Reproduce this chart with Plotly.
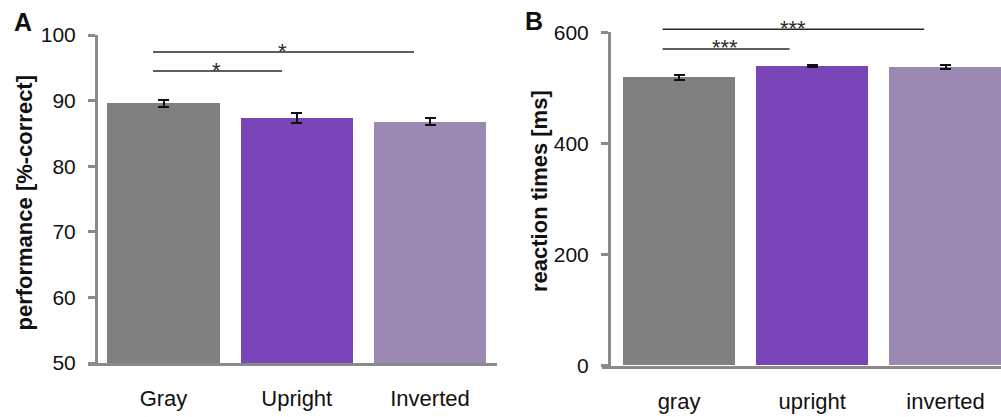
import plotly.graph_objects as go

W, H = 1001, 417

# Panel A: accuracy per condition
conditions_a = ["Gray", "Upright", "Inverted"]
performance = [89.6, 87.3, 86.8]
performance_sem = [0.55, 0.75, 0.55]
ticks_a = [50, 60, 70, 80, 90, 100]
range_a = [50, 100]

# Panel B: reaction times per condition
conditions_b = ["gray", "upright", "inverted"]
reaction_ms = [519, 539, 537]
reaction_sem = [5, 1.5, 3.5]
ticks_b = [0, 200, 400, 600]
range_b = [0, 600]

bar_colors = ["#808080", "#7a45b8", "#9b88b3"]

# significance brackets: (x start, x end, height, label, label x)
sig_a = [(-0.09, 0.89, 94.5, "*", 0.40), (-0.09, 1.88, 97.4, "*", 0.895)]
sig_b = [(-0.135, 0.83, 570, "***", 0.345), (-0.135, 1.84, 605.4, "***", 0.856)]

FONT = "Liberation Sans, Arial, Helvetica, sans-serif"
AXIS_GRAY = "#8a8a8a"
TEXT = "#111111"
BAR_W = 0.844


def px_x(p):
    return p / W


def px_y(p):
    return 1 - p / H


def to_domain(v, rng):
    # value on a y axis -> fraction of that axis' domain (may exceed 1)
    return (v - rng[0]) / (rng[1] - rng[0])


fig = go.Figure()

for xa, ya, cats, vals, errs in [
    ("x", "y", conditions_a, performance, performance_sem),
    ("x2", "y2", conditions_b, reaction_ms, reaction_sem),
]:
    fig.add_trace(go.Bar(
        x=list(range(len(cats))), y=vals, xaxis=xa, yaxis=ya,
        width=BAR_W, marker=dict(color=bar_colors, line=dict(width=0)),
        error_y=dict(type="data", array=errs, color="#111111",
                     thickness=2, width=5.5),
        showlegend=False, hoverinfo="skip",
    ))

common_x = dict(showline=True, linecolor=AXIS_GRAY, linewidth=3,
                ticks="", showgrid=False, zeroline=False, automargin=False,
                tickvals=[0, 1, 2], ticklabelstandoff=14,
                tickfont=dict(family=FONT, size=22, color=TEXT))
common_y = dict(showline=True, linecolor=AXIS_GRAY, linewidth=3,
                ticks="outside", ticklen=7, tickwidth=3, tickcolor=AXIS_GRAY,
                showgrid=False, zeroline=False, anchor="free", automargin=False,
                ticklabelstandoff=8,
                tickfont=dict(family=FONT, size=21, color=TEXT))

fig.update_layout(
    width=W, height=H,
    margin=dict(l=0, r=0, t=0, b=0, autoexpand=False),
    paper_bgcolor="white", plot_bgcolor="white",
    bargap=0,
    xaxis=dict(common_x, domain=[px_x(88), px_x(497)], range=[-0.5666, 2.5028],
               anchor="y", ticktext=conditions_a),
    yaxis=dict(common_y, domain=[px_y(363), px_y(35)], range=range_a,
               position=px_x(96), tickvals=ticks_a),
    xaxis2=dict(common_x, domain=[px_x(602), 1.0], range=[-0.578, 2.4165],
                anchor="y2", ticktext=conditions_b),
    yaxis2=dict(common_y, domain=[px_y(365.5), px_y(32.3)], range=range_b,
                position=px_x(609), tickvals=ticks_b),
)

annotations = []
for xa, ya, rng, brackets in [("x", "y", range_a, sig_a), ("x2", "y2", range_b, sig_b)]:
    yd = ya + " domain"
    for x0, x1, yl, label, lx in brackets:
        yf = to_domain(yl, rng)
        annotations.append(dict(
            x=x1, y=yf, ax=x0, ay=yf, xref=xa, yref=yd, axref=xa, ayref=yd,
            text="", showarrow=True, arrowhead=0, arrowwidth=1.5,
            arrowcolor="#2a2a2a", standoff=0, startstandoff=0,
        ))
        annotations.append(dict(
            x=lx, y=yf, xref=xa, yref=yd, text=label, showarrow=False,
            xanchor="center", yanchor="middle", yshift=1,
            font=dict(family=FONT, size=22, color="#2a2a2a"),
        ))

# panel letters and axis titles
for txt, x, y, size, angle in [
    ("<b>A</b>", 22.7, 22, 25, 0),
    ("<b>B</b>", 534, 21, 25, 0),
    ("<b>performance [%-correct]</b>", 23.5, 203, 22, -90),
    ("<b>reaction times [ms]</b>", 539, 191, 22, -90),
]:
    annotations.append(dict(
        x=px_x(x), y=px_y(y), xref="paper", yref="paper", text=txt,
        showarrow=False, xanchor="center", yanchor="middle", textangle=angle,
        font=dict(family=FONT, size=size, color=TEXT),
    ))

fig.update_layout(annotations=annotations)
fig.write_html("out.html")
